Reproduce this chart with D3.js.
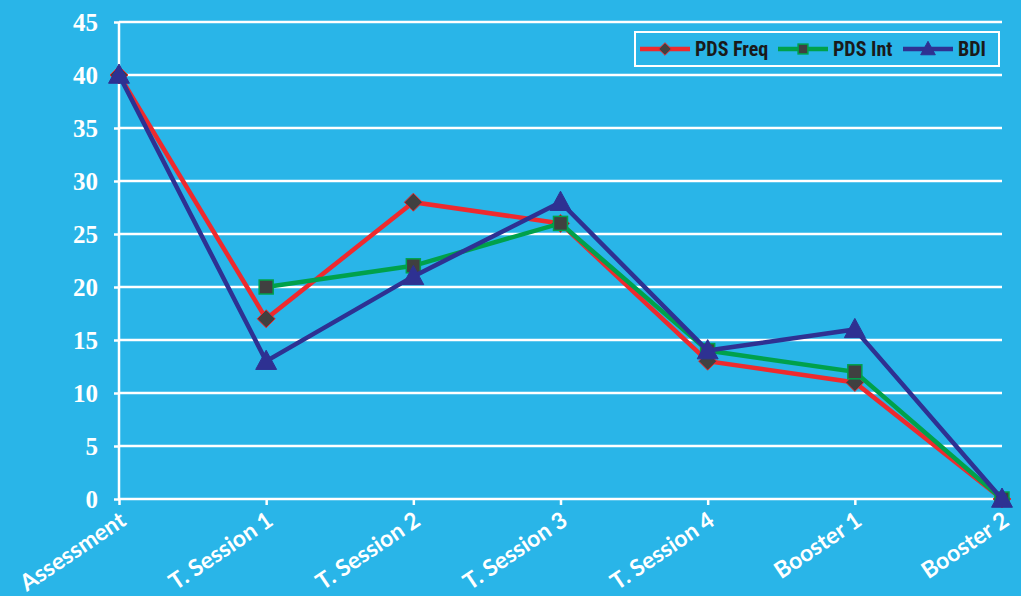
<!DOCTYPE html>
<html><head><meta charset="utf-8">
<script src="https://cdn.jsdelivr.net/npm/d3@7"></script>
<style>body{margin:0;background:#29b5e8;}svg{display:block;}</style>
</head><body>
<script>
const categories = ["Assessment","T. Session 1","T. Session 2","T. Session 3","T. Session 4","Booster 1","Booster 2"];
const pdsFreq = [40,17,28,26,13,11,0];
const pdsInt  = [null,20,22,26,14,12,0];
const bdi     = [40,13,21,28,14,16,0];
const yTicks  = [0,5,10,15,20,25,30,35,40,45];
const seriesNames = ["PDS Freq","PDS Int","BDI"];

const W=1021,H=596;
const svg=d3.select("body").append("svg").attr("width",W).attr("height",H);
svg.append("rect").attr("width",W).attr("height",H).attr("fill","#29b5e8");

const x=d3.scalePoint().domain(categories).range([119,1002]);
const y=d3.scaleLinear().domain([0,45]).range([499,22]);

// gridlines
svg.append("g").selectAll("line").data(yTicks.filter(d=>d>0)).join("line")
  .attr("x1",119).attr("x2",1002).attr("y1",d=>y(d)).attr("y2",d=>y(d))
  .attr("stroke","#fff").attr("stroke-width",2.5);

// y axis
const ya=svg.append("g").attr("transform","translate(119,0)")
  .call(d3.axisLeft(y).tickValues(yTicks).tickSize(5).tickPadding(16));
ya.select(".domain").attr("stroke","#fff").attr("stroke-width",2.5).attr("d","M0,499V22");
ya.selectAll(".tick line").attr("stroke","#fff").attr("stroke-width",2.5);
ya.selectAll(".tick text").attr("fill","#fff").attr("font-family","'Liberation Serif','DejaVu Serif',serif")
  .attr("font-weight","bold").attr("font-size","25px");

// x axis
const xa=svg.append("g").attr("transform","translate(0,499)")
  .call(d3.axisBottom(x).tickSize(6).tickSizeOuter(0));
xa.select(".domain").attr("stroke","#fff").attr("stroke-width",2.5).attr("d","M119,0H1002");
xa.selectAll(".tick line").attr("stroke","#fff").attr("stroke-width",2.5);
xa.selectAll(".tick text").attr("fill","#fff").attr("font-family","Lato,'Open Sans',sans-serif")
  .attr("font-weight","bold").attr("font-size","23px")
  .attr("text-anchor","end").attr("dy",null).attr("y",0)
  .attr("transform","translate(8,25) rotate(-34)");

const series=[
  {name:seriesNames[0],vals:pdsFreq,color:"#ee2a2e",shape:"diamond"},
  {name:seriesNames[1],vals:pdsInt,color:"#00a14b",shape:"square"},
  {name:seriesNames[2],vals:bdi,color:"#2e3192",shape:"triangle"}
];
function marker(g,shape,color,cx,cy,scale=1){
  if(shape==="diamond"){
    const s=9*scale;
    g.append("path").attr("d",`M${cx},${cy-s}L${cx+s},${cy}L${cx},${cy+s}L${cx-s},${cy}Z`)
      .attr("fill","#404040").attr("stroke",color).attr("stroke-width",1);
  } else if(shape==="square"){
    const s=7*scale;
    g.append("rect").attr("x",cx-s).attr("y",cy-s).attr("width",2*s).attr("height",2*s)
      .attr("fill","#404040").attr("stroke",color).attr("stroke-width",1.5);
  } else {
    const s=11*scale;
    g.append("path").attr("d",`M${cx},${cy-s}L${cx+s*0.95},${cy+s*0.75}L${cx-s*0.95},${cy+s*0.75}Z`)
      .attr("fill",color).attr("stroke",color).attr("stroke-width",1);
  }
}
const line=d3.line().defined(d=>d!=null).x((d,i)=>x(categories[i])).y(d=>y(d));
series.forEach(s=>{
  const g=svg.append("g");
  g.append("path").datum(s.vals).attr("d",line).attr("fill","none")
    .attr("stroke",s.color).attr("stroke-width",4.5).attr("stroke-linejoin","miter");
  s.vals.forEach((v,i)=>{ if(v!=null) marker(g,s.shape,s.color,x(categories[i]),y(v)); });
});

// legend
const lg=svg.append("g");
lg.append("rect").attr("x",635).attr("y",32).attr("width",364).attr("height",34)
  .attr("fill","none").attr("stroke","#fff").attr("stroke-width",2);
const lx=[640,778,903];
series.forEach((s,i)=>{
  lg.append("line").attr("x1",lx[i]).attr("x2",lx[i]+50).attr("y1",49).attr("y2",49)
    .attr("stroke",s.color).attr("stroke-width",4.5);
  marker(lg,s.shape,s.color,lx[i]+25,49,0.7);
  lg.append("text").attr("x",lx[i]+55).attr("y",56).text(s.name)
    .attr("fill","#1a1a1a").attr("font-family","'Liberation Sans Narrow','Roboto Condensed',Roboto,sans-serif")
    .attr("font-weight","bold").attr("font-size","20px");
});
</script>
</body></html>
